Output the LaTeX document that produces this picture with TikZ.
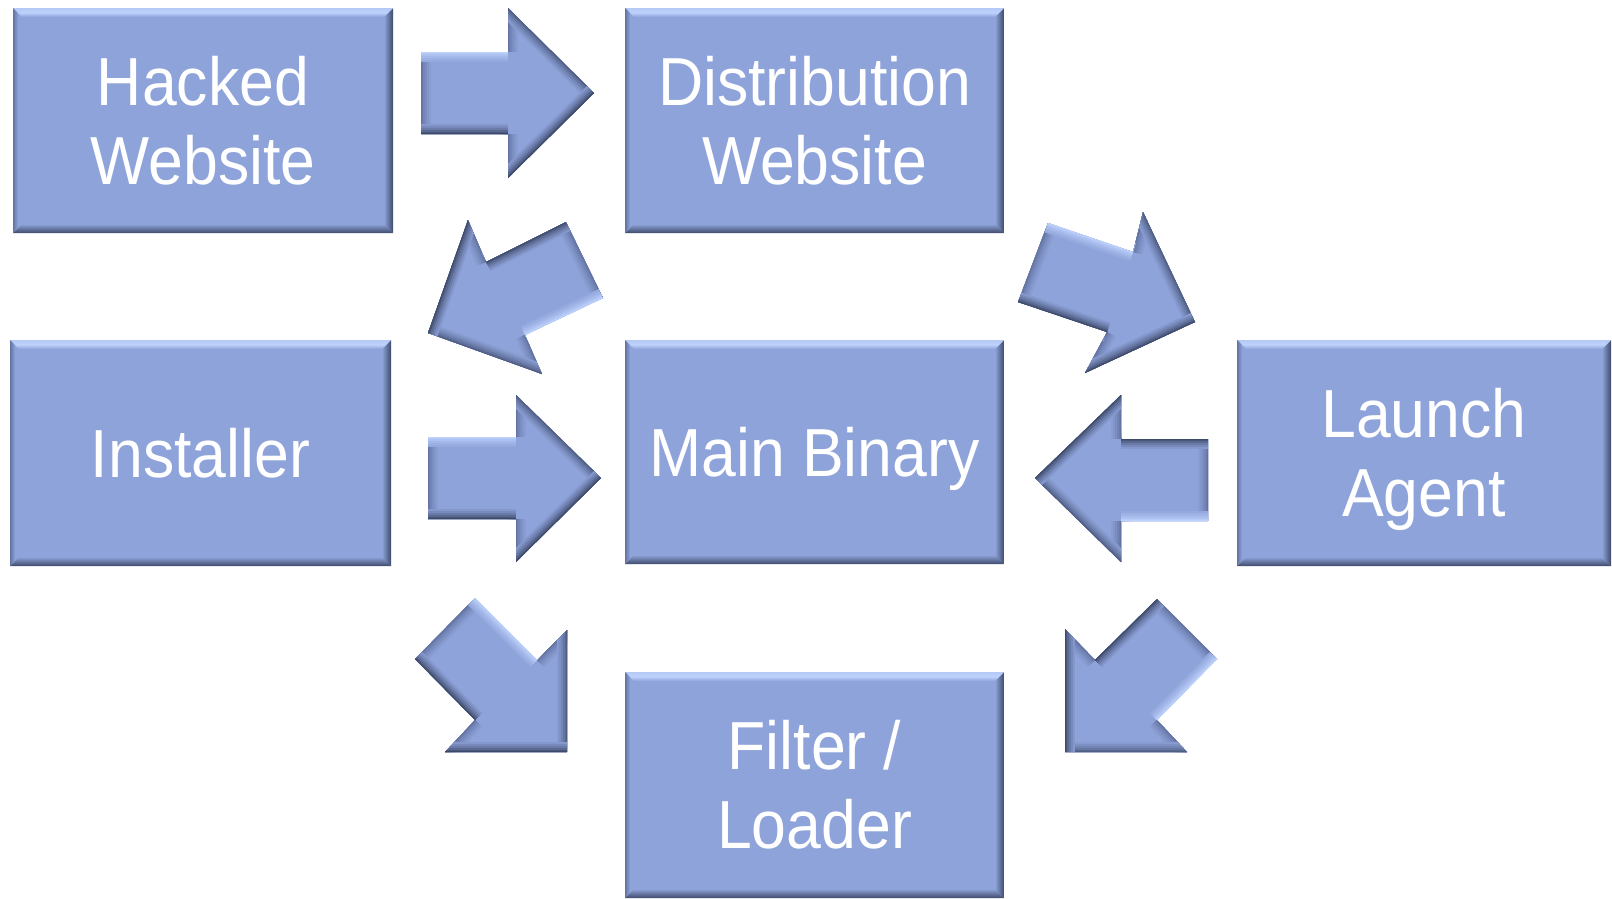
\documentclass[tikz,border=0pt]{standalone}
\usepackage{fontspec}
\setmainfont[FakeStretch=0.92]{Liberation Sans}
\definecolor{base}{RGB}{142,163,218}
\definecolor{bvlight}{RGB}{190,210,252}
\definecolor{bvdark}{RGB}{62,74,106}
\definecolor{bvdk}{RGB}{80,94,132}
\definecolor{bvmid}{RGB}{100,116,162}
\newcommand\bev[3]{%
  \draw[line width=20pt,#1!12!base] (#2) -- (#3);
  \draw[line width=16pt,#1!28!base] (#2) -- (#3);
  \draw[line width=12pt,#1!45!base] (#2) -- (#3);
  \draw[line width=8pt,#1!65!base] (#2) -- (#3);
  \draw[line width=4pt,#1!85!base] (#2) -- (#3);
  \draw[line width=1.5pt,#1] (#2) -- (#3);}
% local order: tail-top, inner-top, barb-top, tip, barb-bottom, inner-bottom, tail-bottom
\newcommand\blockarrow[7]{%
  \begin{scope}
    \clip (#1) -- (#2) -- (#3) -- (#4) -- (#5) -- (#6) -- (#7) -- cycle;
    \fill[base] (#1) -- (#2) -- (#3) -- (#4) -- (#5) -- (#6) -- (#7) -- cycle;
    \bev{bvmid}{#7}{#1}
    \bev{bvmid}{#2}{#3}
    \bev{bvmid}{#5}{#6}
    \bev{bvdk}{#3}{#4}
    \bev{bvdark}{#4}{#5}
    \bev{bvdark}{#6}{#7}
    \bev{bvlight}{#1}{#2}
  \end{scope}}
\tikzset{
  bevel/.style={path picture={
    \path (path picture bounding box.north west) coordinate (@nw)
          (path picture bounding box.north east) coordinate (@ne)
          (path picture bounding box.south west) coordinate (@sw)
          (path picture bounding box.south east) coordinate (@se);
    \shade[left color=base, right color=bvdark] (@se) -- (@ne) -- ([shift={(-9pt,-9pt)}]@ne) -- ([shift={(-9pt,9pt)}]@se) -- cycle;
    \shade[top color=base, bottom color=bvdark] (@sw) -- (@se) -- ([shift={(-9pt,9pt)}]@se) -- ([shift={(9pt,9pt)}]@sw) -- cycle;
    \shade[top color=bvlight!80!base, bottom color=base, middle color=bvlight] (@nw) -- (@ne) -- ([shift={(-9pt,-9pt)}]@ne) -- ([shift={(9pt,-9pt)}]@nw) -- cycle;
    \shade[left color=bvmid, right color=base] (@nw) -- (@sw) -- ([shift={(5pt,5pt)}]@sw) -- ([shift={(5pt,-5pt)}]@nw) -- cycle;
  }},
  box/.style={rectangle, fill=base, text=white, inner sep=0pt, outer sep=0pt,
    font=\fontsize{68}{79}\selectfont, align=center, bevel}
}
\begin{document}
\begin{tikzpicture}[x=1pt,y=-1pt]
\useasboundingbox (0,0) rectangle (1612,898);
\node[box, minimum width=380pt, minimum height=225pt] (hw) at (203,120.5) {Hacked\\Website};
\node[box, minimum width=379pt, minimum height=225pt] (dw) at (814.5,120.5) {Distribution\\Website};
\node[box, minimum width=381pt, minimum height=226pt] (in) at (200.5,453) {Installer};
\node[box, minimum width=379pt, minimum height=224pt] (mb) at (814.5,452) {Main Binar\smash{y}};
\node[box, minimum width=374pt, minimum height=226pt] (la) at (1424,453) {Launch\\A\smash{g}ent};
\node[box, minimum width=379pt, minimum height=226pt] (fl) at (814.5,785) {Filter /\\Loader};
% hacked -> distribution
\blockarrow{421,52}{508,52}{508,8}{594,93}{508,178}{508,134}{421,134}
% distribution -> installer
\blockarrow{603,298}{525,335}{542,374}{428,333}{468,220}{486,262}{566,222}
% distribution -> launch agent
\blockarrow{1048,223}{1133,252}{1143,212}{1195,322}{1085,373}{1107,332}{1018,302}
% installer -> main
\blockarrow{428,437}{516,437}{516,395}{601,478}{516,562}{516,519}{428,519}
% launch agent -> main
\blockarrow{1208,521}{1121,521}{1121,562}{1035,478}{1121,395}{1121,439}{1208,439}
% main -> filter
\blockarrow{475,598}{537,660}{567,630}{567,752}{445,752}{475,720}{415,659}
% launch agent -> filter
\blockarrow{1217,659}{1157,720}{1187,752}{1065,752}{1065,629}{1095,660}{1157,599}
\end{tikzpicture}
\end{document}
